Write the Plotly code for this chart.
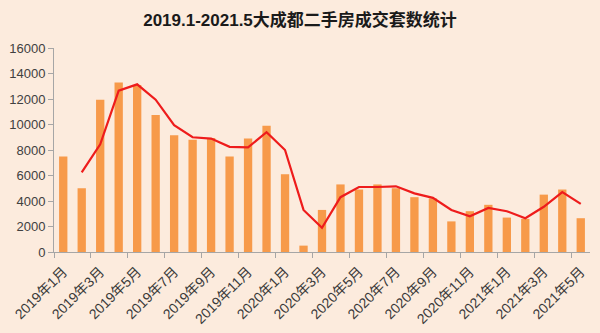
import plotly.graph_objects as go

months = ["2019年1月", "2019年2月", "2019年3月", "2019年4月", "2019年5月", "2019年6月",
          "2019年7月", "2019年8月", "2019年9月", "2019年10月", "2019年11月", "2019年12月",
          "2020年1月", "2020年2月", "2020年3月", "2020年4月", "2020年5月", "2020年6月",
          "2020年7月", "2020年8月", "2020年9月", "2020年10月", "2020年11月", "2020年12月",
          "2021年1月", "2021年2月", "2021年3月", "2021年4月", "2021年5月"]

deals = [7500, 5000, 11950, 13300, 13100, 10750, 9150, 8800, 8950, 7500, 8900, 9900,
         6100, 500, 3300, 5300, 4900, 5300, 5000, 4300, 4200, 2400, 3200, 3700,
         2700, 2600, 4500, 4900, 2650]

trend_months = months[1:]
trend = [6250, 8450, 12650, 13150, 11950, 9950, 9000, 8900, 8250, 8200, 9400, 8000,
         3300, 1900, 4300, 5100, 5100, 5150, 4600, 4250, 3300, 2800, 3450, 3200,
         2650, 3550, 4700, 3780]

title_text = "2019.1-2021.5大成都二手房成交套数统计"

bg = "#FCEBDD"
font_fam = "Liberation Sans, Arial, Noto Sans CJK SC, sans-serif"

fig = go.Figure()
fig.add_trace(go.Bar(x=months, y=deals, marker=dict(color="#F79A4A", line=dict(width=0)),
                     showlegend=False))
fig.add_trace(go.Scatter(x=trend_months, y=trend, mode="lines",
                         line=dict(color="#EE1C1C", width=2.2), showlegend=False))

fig.update_layout(
    width=600, height=333,
    margin=dict(l=54, r=10, t=48, b=81),
    paper_bgcolor=bg, plot_bgcolor=bg,
    bargap=0.55,
    font=dict(family=font_fam, color="#404040"),
    title=dict(text="<b>" + title_text + "</b>", x=0.5, xanchor="center",
               y=0.94, yanchor="middle",
               font=dict(size=17, color="#1a1a1a", family="Liberation Sans, Noto Sans CJK SC, sans-serif")),
)
fig.update_xaxes(
    type="category", tickson="boundaries", dtick=2, tick0=0,
    tickangle=-45, ticks="outside", ticklen=5, tickcolor="#A6A6A6",
    showline=True, linecolor="#A6A6A6", linewidth=1, showgrid=False,
    tickfont=dict(size=14, color="#3a3a3a", family=font_fam),
    ticklabelstandoff=5, automargin=False,
    range=[-0.5, 28.5],
)
fig.update_yaxes(
    range=[0, 16000], dtick=2000, tickformat="d", ticks="outside", ticklen=5,
    tickcolor="#A6A6A6", automargin=False,
    showline=True, linecolor="#A6A6A6", linewidth=1, showgrid=False, zeroline=False,
    tickfont=dict(size=13, color="#404040", family=font_fam),
)

fig.write_html("out.html")
